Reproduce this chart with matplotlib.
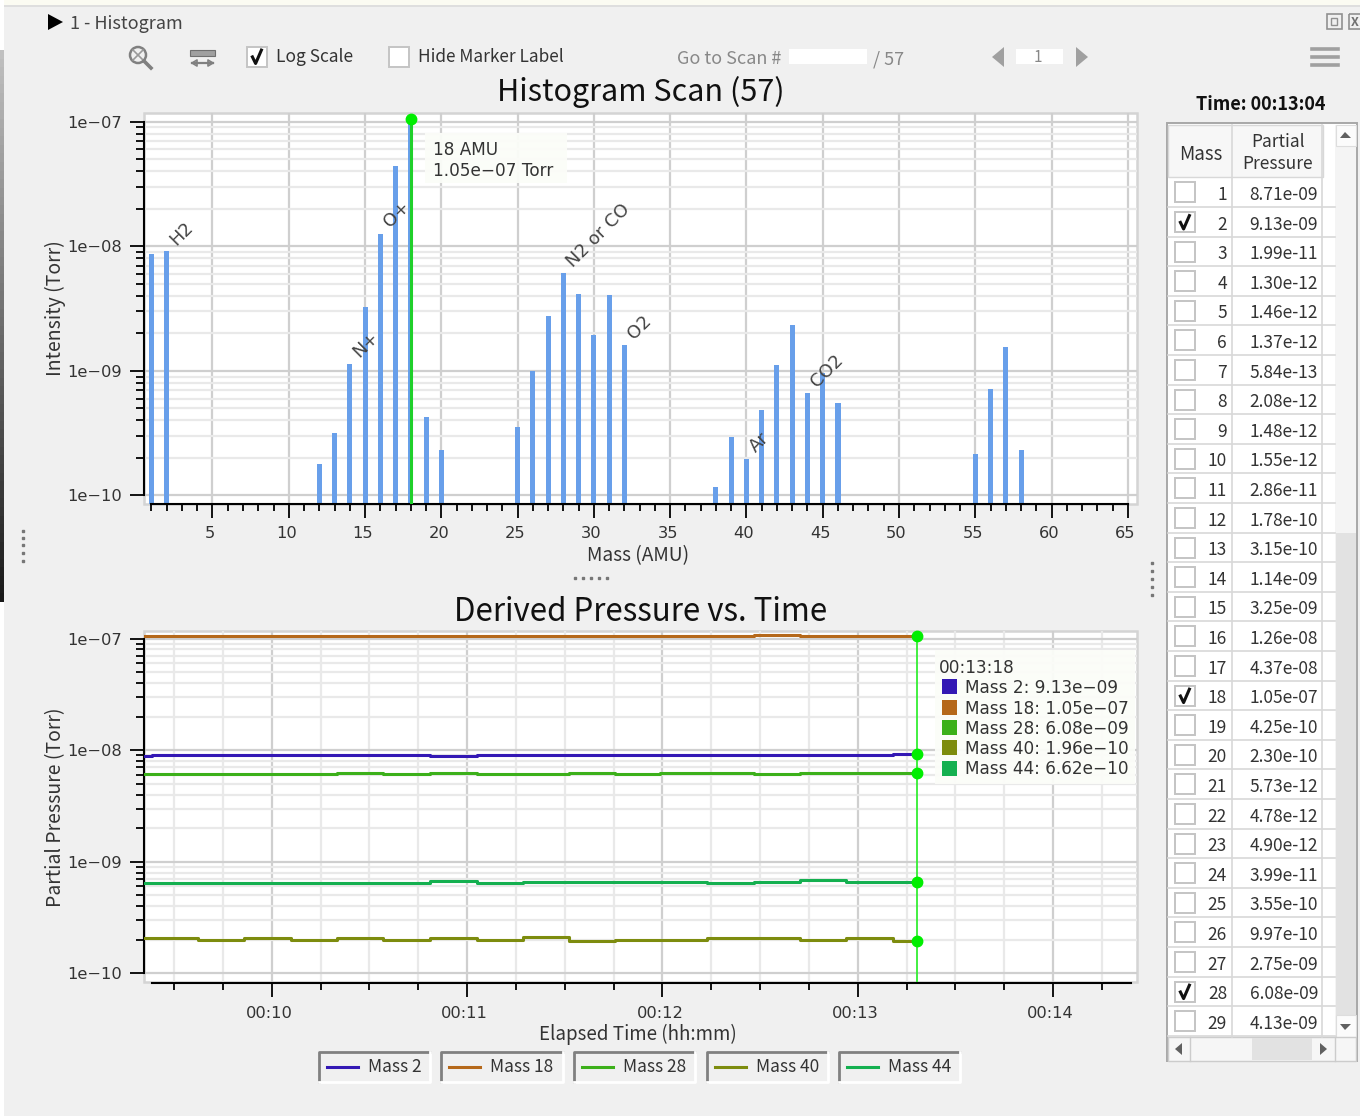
import numpy as np
import matplotlib
matplotlib.use('Agg')
import matplotlib.pyplot as plt
from matplotlib.patches import Rectangle, Polygon, Circle
from matplotlib.ticker import NullFormatter
from matplotlib.transforms import ScaledTranslation

plt.rcParams['font.family'] = ['Noto Sans CJK JP', 'DejaVu Sans']
plt.rcParams['axes.unicode_minus'] = True

W, H = 1360, 1116
TEXT = '#333333'
GRID_MAJOR = '#cfcfcf'
GRID_MINOR = '#e9e9e9'
CURSOR = '#00ee00'
BAR_COLOR = '#689fea'
WIDE = 'DejaVu Sans'

# histogram scan
table_mass = list(range(1, 30))
table_value = [8.71e-09, 9.13e-09, 1.99e-11, 1.30e-12, 1.46e-12, 1.37e-12, 5.84e-13, 2.08e-12,
               1.48e-12, 1.55e-12, 2.86e-11, 1.78e-10, 3.15e-10, 1.14e-09, 3.25e-09, 1.26e-08,
               4.37e-08, 1.05e-07, 4.25e-10, 2.30e-10, 5.73e-12, 4.78e-12, 4.90e-12, 3.99e-11,
               3.55e-10, 9.97e-10, 2.75e-09, 6.08e-09, 4.13e-09]
checked_mass = [2, 18, 28]
extra_mass = [30, 31, 32, 38, 39, 40, 41, 42, 43, 44, 45, 46, 55, 56, 57, 58]
extra_value = [1.93e-09, 4.10e-09, 1.60e-09, 1.17e-10, 2.94e-10, 1.96e-10, 4.82e-10, 1.11e-09,
               2.34e-09, 6.62e-10, 9.60e-10, 5.54e-10, 2.15e-10, 7.18e-10, 1.56e-09, 2.32e-10]

marker_names = ['H2', 'N+', 'O+', 'N2 or CO', 'O2', 'Ar', 'CO2']
marker_mass = [2, 14, 16, 28, 32, 40, 44]

# pressure vs time, one value per scan
scan_minutes = [9.27, 9.505, 9.74, 9.98, 10.22, 10.45, 10.69, 10.93, 11.17, 11.40, 11.64, 11.87,
                12.11, 12.35, 12.59, 12.82, 13.06, 13.305]
mass2_values = [8.9e-9, 9.13e-9, 9.13e-9, 9.13e-9, 9.13e-9, 9.13e-9, 9.13e-9, 8.9e-9, 9.13e-9,
                9.13e-9, 9.13e-9, 9.13e-9, 9.13e-9, 9.13e-9, 9.13e-9, 9.13e-9, 9.13e-9, 9.3e-9]
mass18_values = [1.05e-7] * 14 + [1.08e-7] + [1.05e-7] * 3
mass28_values = [6.08e-9, 6.08e-9, 6.08e-9, 6.08e-9, 6.08e-9, 6.25e-9, 6.08e-9, 6.25e-9, 6.08e-9, 6.08e-9,
                 6.25e-9, 6.08e-9, 6.25e-9, 6.25e-9, 6.08e-9, 6.25e-9, 6.25e-9, 6.25e-9]
mass40_values = [2.06e-10, 2.06e-10, 2.0e-10, 2.06e-10, 2.0e-10, 2.06e-10, 2.0e-10, 2.06e-10, 2.0e-10,
                 2.12e-10, 1.93e-10, 2.0e-10, 2.0e-10, 2.06e-10, 2.06e-10, 2.0e-10, 2.06e-10, 1.96e-10]
mass44_values = [6.45e-10, 6.45e-10, 6.45e-10, 6.45e-10, 6.45e-10, 6.45e-10, 6.45e-10, 6.65e-10, 6.45e-10,
                 6.62e-10, 6.62e-10, 6.62e-10, 6.62e-10, 6.42e-10, 6.62e-10, 6.80e-10, 6.62e-10, 6.62e-10]

series_names = ['Mass 2', 'Mass 18', 'Mass 28', 'Mass 40', 'Mass 44']
series_values = [mass2_values, mass18_values, mass28_values, mass40_values, mass44_values]
series_colors = ['#3318b4', '#b5681a', '#3cb01a', '#7d8c0e', '#14b050']
readout_values = ['9.13e\u221209', '1.05e\u221207', '6.08e\u221209', '1.96e\u221210', '6.62e\u221210']


def px_axes(fig, x0, y0, x1, y1):
    return fig.add_axes([x0 / W, 1 - y1 / H, (x1 - x0) / W, (y1 - y0) / H])


def style_chart(ax, ymin, ymax):
    ax.set_yscale('log')
    ax.set_ylim(ymin, ymax)
    ax.set_yticks([1e-10, 1e-9, 1e-8, 1e-7], ['1e\u221210', '1e\u221209', '1e\u221208', '1e\u221207'])
    minor = [m * 10.0 ** e for e in (-10, -9, -8) for m in range(2, 10)]
    ax.set_yticks(minor, minor=True)
    ax.yaxis.set_minor_formatter(NullFormatter())
    ax.tick_params(axis='y', which='major', length=10, width=1.3, pad=6, labelsize=11.7, labelcolor=TEXT,
                   labelfontfamily=WIDE)
    ax.tick_params(axis='y', which='minor', length=5.5, width=1.3)
    ax.tick_params(axis='x', which='major', length=10, width=1.3, pad=6, labelsize=11.7, labelcolor=TEXT,
                   labelfontfamily=WIDE)
    ax.tick_params(axis='x', which='minor', length=5, width=1.3)
    ax.grid(True, axis='y', which='major', color=GRID_MAJOR, lw=1.6)
    ax.grid(True, axis='y', which='minor', color=GRID_MINOR, lw=1.6)
    ax.set_axisbelow(True)
    for side in ('top', 'right'):
        ax.spines[side].set_visible(False)
    ax.spines['left'].set_bounds(1e-10, 1e-7)
    ax.spines['left'].set_linewidth(1.5)
    ax.spines['bottom'].set_linewidth(1.5)
    ax.add_patch(Rectangle((0, 0), 1, 1, transform=ax.transAxes, fill=False, ec='#d4d4d4', lw=1.8,
                           clip_on=False, zorder=0.5))


def nudge_x_labels(ax, fig):
    # the app draws its x labels a little left of the tick
    shift = ScaledTranslation(-2.5 / 100, 0, fig.dpi_scale_trans)
    for label in ax.get_xticklabels():
        label.set_transform(label.get_transform() + shift)


def plot_histogram(fig):
    ax = px_axes(fig, 144, 113.3, 1137, 503.5)
    masses = table_mass + extra_mass
    values = table_value + extra_value
    ax.bar(masses, values, width=0.33, color=BAR_COLOR, bottom=1e-12, zorder=2)
    style_chart(ax, 8.62e-11, 1.168e-7)
    ax.set_xlim(0.51, 65.6)
    ax.set_xticks(range(5, 66, 5))
    ax.set_xticks([m for m in range(1, 65) if m % 5], minor=True)
    ax.grid(True, axis='x', which='major', color=GRID_MAJOR, lw=1.6)
    ax.spines['bottom'].set_bounds(1, 65)
    nudge_x_labels(ax, fig)

    # cursor on mass 18
    ax.plot([18, 18], [1e-12, 1.05e-7], color='#1fd02a', lw=2.2, zorder=3)
    ax.plot([18], [1.05e-7], 'o', color=CURSOR, ms=7.5, clip_on=False, zorder=4)

    lookup = dict(zip(masses, values))
    for name, mass in zip(marker_names, marker_mass):
        ax.annotate(name, xy=(mass, lookup[mass]), xytext=(9, 2), textcoords='offset points',
                    rotation=45, rotation_mode='anchor', ha='left', va='bottom', fontsize=13,
                    family=WIDE, color='#444444', zorder=5)

    ax.set_title('Histogram Scan (57)', fontsize=22, pad=8.5, color='#111111')
    ax.set_xlabel('Mass (AMU)', fontsize=13.8, color=TEXT)
    ax.xaxis.set_label_coords((638 - 144) / 993, -(545 - 503.5) / 390)
    ax.set_ylabel('Intensity (Torr)', fontsize=14, color=TEXT)
    ax.yaxis.set_label_coords((66 - 144) / 993, 1 - (308 - 113.3) / 390)


def plot_pressure(fig):
    ax = px_axes(fig, 144, 631, 1137, 982)
    for name, values, color in zip(series_names, series_values, series_colors):
        ax.plot(scan_minutes, values, drawstyle='steps-mid', color=color, lw=2.2, label=name, zorder=3)
    style_chart(ax, 8.35e-11, 1.172e-7)
    ax.set_xlim(9.346, 14.43)
    ax.set_xticks([10, 11, 12, 13, 14], ['00:10', '00:11', '00:12', '00:13', '00:14'])
    quarter = [m for m in np.arange(9.5, 14.3, 0.25) if m % 1 != 0]
    ax.set_xticks(quarter, minor=True)
    for tick, loc in zip(ax.xaxis.get_minor_ticks(), ax.get_xticks(minor=True)):
        if loc % 0.5 == 0:
            tick.tick1line.set_markersize(7.2)
    ax.grid(True, axis='x', which='major', color=GRID_MAJOR, lw=1.6)
    ax.grid(True, axis='x', which='minor', color=GRID_MINOR, lw=1.6)
    ax.spines['bottom'].set_position(('outward', 1))
    ax.spines['bottom'].set_bounds(9.385, 14.4)
    nudge_x_labels(ax, fig)

    # cursor at 00:13:18
    t = scan_minutes[-1]
    ax.plot([t, t], [8.35e-11, mass18_values[-1]], color='#33ee33', lw=1.3, zorder=4)
    ax.plot([t] * 5, [v[-1] for v in series_values], 'o', color=CURSOR, ms=7.5, clip_on=False, zorder=5)

    ax.set_title('Derived Pressure vs. Time', fontsize=22.5, pad=7, color='#111111')
    ax.set_xlabel('Elapsed Time (hh:mm)', fontsize=13.5, color=TEXT)
    ax.xaxis.set_label_coords((638 - 144) / 993, -(1024 - 982) / 351)
    ax.set_ylabel('Partial Pressure (Torr)', fontsize=14, color=TEXT)
    ax.yaxis.set_label_coords((66 - 144) / 993, 1 - (807 - 631) / 351)


def checkbox(ui, x, y, size, checked):
    ui.add_patch(Rectangle((x, y), size, size, fc='white', ec='#c4c4c4', lw=1.4))
    if checked:
        ui.plot([x + size * 0.27, x + size * 0.43, x + size * 0.72],
                [y + size * 0.52, y + size * 0.85, y + size * 0.18], color='#111111', lw=2.2)


def draw_window(ui):
    ui.add_patch(Rectangle((0, 0), W, 5, fc='#fbfbf2', ec='none'))
    ui.add_patch(Rectangle((4, 5), W, 2, fc='#dedede', ec='none'))
    ui.add_patch(Rectangle((0, 0), 4, 50, fc='white', ec='none'))
    ui.add_patch(Rectangle((0, 602), 4, 514, fc='white', ec='none'))
    ui.imshow(np.linspace(0.75, 0.1, 64).reshape(-1, 1), extent=(0, 4, 602, 50), cmap='gray', vmin=0, vmax=1,
              aspect='auto', zorder=1)

    # toolbar
    ui.add_patch(Polygon([(48, 14), (63, 22), (48, 30)], fc='black', ec='none'))
    ui.text(70, 24, '1 - Histogram', fontsize=13, color='#444444', va='center')
    ui.add_patch(Circle((138, 55), 8, fc='none', ec='#808080', lw=1.8))
    ui.plot([133, 143], [50, 60], color='#999999', lw=1.2)
    ui.plot([133, 143], [60, 50], color='#999999', lw=1.2)
    ui.plot([144, 151], [61, 68], color='#808080', lw=2.6)
    ui.add_patch(Rectangle((190, 50), 25, 6, fc='#a0a0a0', ec='#707070', lw=0.8))
    ui.plot([192, 213], [63, 63], color='#808080', lw=1.6)
    ui.plot([192, 197, 197, 192], [63, 60, 66, 63], color='#808080', lw=1.2)
    ui.plot([213, 208, 208, 213], [63, 60, 66, 63], color='#808080', lw=1.2)
    checkbox(ui, 247, 46.5, 20, True)
    ui.text(276, 57.5, 'Log Scale', fontsize=12.5, color=TEXT, va='center')
    checkbox(ui, 389, 46.5, 20, False)
    ui.text(418, 57.5, 'Hide Marker Label', fontsize=12.4, color=TEXT, va='center')
    ui.text(677, 59, 'Go to Scan #', fontsize=13, color='#888888', va='center')
    ui.add_patch(Rectangle((789, 49), 78, 15, fc='white', ec='none'))
    ui.text(873, 59, '/ 57', fontsize=13, color='#888888', va='center')
    ui.add_patch(Polygon([(1004, 47), (992, 57), (1004, 67)], fc='#a0a0a0', ec='none'))
    ui.add_patch(Rectangle((1016, 49), 47, 15, fc='white', ec='none'))
    ui.text(1038, 57, '1', fontsize=11, color='#888888', va='center', ha='center')
    ui.add_patch(Polygon([(1076, 47), (1088, 57), (1076, 67)], fc='#a0a0a0', ec='none'))
    for y in (49, 57, 65):
        ui.plot([1312, 1338], [y, y], color='#a0a0a0', lw=2.6)
    ui.add_patch(Rectangle((1327, 14), 15, 15, fc='none', ec='#909090', lw=1.2))
    ui.add_patch(Rectangle((1331, 18), 6, 7, fc='none', ec='#909090', lw=1))
    ui.add_patch(Rectangle((1349, 14), 15, 15, fc='none', ec='#909090', lw=1.2))
    ui.text(1355, 22, 'X', fontsize=9, color='#707070', ha='center', va='center', fontweight='bold')

    # sash handles
    ui.plot([23] * 5, [531, 538, 545, 553, 561], 's', color='#777777', ms=1.8)
    ui.plot([1152] * 5, [563, 571, 579, 587, 595], 's', color='#777777', ms=1.8)
    ui.plot([575, 583, 591, 599, 607], [578] * 5, 's', color='#777777', ms=1.8)


def draw_table(ui):
    ui.text(1261, 104, 'Time: 00:13:04', fontsize=13, fontweight='bold', color='#111111',
            ha='center', va='center')
    ui.add_patch(Rectangle((1167, 123), 190, 938, fc='white', ec='#a8a8a8', lw=1.4))
    ui.add_patch(Rectangle((1168, 125), 155, 52, fc='#f7f7f7', ec='#d8d8d8', lw=1))
    ui.text(1201, 154, 'Mass', fontsize=13.5, color=TEXT, ha='center', va='center')
    ui.text(1278, 153, 'Partial\nPressure', fontsize=12.5, color=TEXT, ha='center', va='center', linespacing=1.3)
    ui.plot([1232, 1232], [125, 1037], color='#d8d8d8', lw=1.2)
    ui.plot([1322, 1322], [125, 1037], color='#d8d8d8', lw=1.2)
    for i, (mass, value) in enumerate(zip(table_mass, table_value)):
        top = 177.4 + 29.6 * i
        ui.plot([1168, 1335], [top + 29.6, top + 29.6], color='#d8d8d8', lw=1.2)
        checkbox(ui, 1175, top + 5, 20, mass in checked_mass)
        ui.text(1227, top + 17.5, str(mass), fontsize=12.5, color=TEXT, ha='right', va='center')
        mant, exp = ('%.2e' % value).split('e')
        ui.text(1318, top + 17.5, mant + 'e-' + exp[1:], fontsize=12.5, color=TEXT, ha='right', va='center')

    # scroll bars
    ui.add_patch(Rectangle((1335, 125), 21, 912, fc='#f4f4f4', ec='none'))
    ui.add_patch(Rectangle((1336, 533), 20, 482, fc='#e2e2e2', ec='none'))
    ui.add_patch(Rectangle((1336, 125), 20, 21, fc='#fbfbfb', ec='#dddddd', lw=0.8))
    ui.add_patch(Rectangle((1336, 1015), 20, 22, fc='#fbfbfb', ec='#dddddd', lw=0.8))
    ui.add_patch(Polygon([(1340, 138), (1345, 132), (1351, 138)], fc='#606060', ec='none'))
    ui.add_patch(Polygon([(1340, 1024), (1345, 1030), (1351, 1024)], fc='#606060', ec='none'))
    ui.add_patch(Rectangle((1168, 1037), 188, 24, fc='#f6f6f6', ec='#cccccc', lw=1))
    ui.add_patch(Rectangle((1252, 1038), 60, 22, fc='#e2e2e2', ec='none'))
    ui.plot([1190, 1190], [1037, 1061], color='#cccccc', lw=1)
    ui.plot([1335, 1335], [1037, 1061], color='#cccccc', lw=1)
    ui.add_patch(Polygon([(1182, 1043), (1175, 1049), (1182, 1055)], fc='#606060', ec='none'))
    ui.add_patch(Polygon([(1320, 1043), (1327, 1049), (1320, 1055)], fc='#606060', ec='none'))


def draw_legend(ui):
    chip_left = [319, 441, 574, 707, 839]
    chip_right = [430, 563, 695, 828, 960]
    for x0, x1, name, color in zip(chip_left, chip_right, series_names, series_colors):
        ui.add_patch(Rectangle((x0, 1052), x1 - x0, 30, fc='#f0f0f0', ec='none'))
        ui.plot([x0, x0, x1], [1082, 1052, 1052], color='#808080', lw=2)
        ui.plot([x0, x1, x1], [1082, 1082, 1052], color='#ffffff', lw=2)
        ui.plot([x0 + 8, x0 + 39], [1067, 1067], color=color, lw=2.2)
        ui.text(x0 + 49, 1067.5, name, fontsize=12.5, color=TEXT, va='center')


def draw_tooltips(ui):
    ui.add_patch(Rectangle((425, 133), 142, 50, fc='#fbfdf8', ec='none', alpha=0.95, zorder=6))
    ui.text(433, 150, '18 AMU', fontsize=12.2, family=WIDE, color=TEXT, va='center', zorder=7)
    ui.text(433, 171, '1.05e\u221207 Torr', fontsize=12.2, family=WIDE, color=TEXT, va='center', zorder=7)

    ui.add_patch(Rectangle((935, 650), 200, 134, fc='#fbfdf8', ec='none', alpha=0.95, zorder=6))
    ui.text(939, 668, '00:13:18', fontsize=12.2, family=WIDE, color=TEXT, va='center', zorder=7)
    rows = [687, 707.5, 728, 748, 768.5]
    for y, name, value, color in zip(rows, series_names, readout_values, series_colors):
        ui.add_patch(Rectangle((942, y - 8), 15, 15, fc=color, ec='none', zorder=7))
        ui.text(965, y + 1, name + ': ' + value, fontsize=12.2, family=WIDE, color=TEXT, va='center', zorder=7)


def main():
    fig = plt.figure(figsize=(W / 100, H / 100), dpi=100, facecolor='#f0f0f0')
    plot_histogram(fig)
    plot_pressure(fig)

    # full window overlay in pixel coordinates for the widgets around the charts
    ui = fig.add_axes([0, 0, 1, 1], facecolor='none', zorder=10)
    draw_window(ui)
    draw_table(ui)
    draw_legend(ui)
    draw_tooltips(ui)
    ui.set_xlim(0, W)
    ui.set_ylim(H, 0)
    ui.axis('off')

    fig.savefig('out.png', dpi=100, facecolor=fig.get_facecolor())


if __name__ == "__main__":
    main()
